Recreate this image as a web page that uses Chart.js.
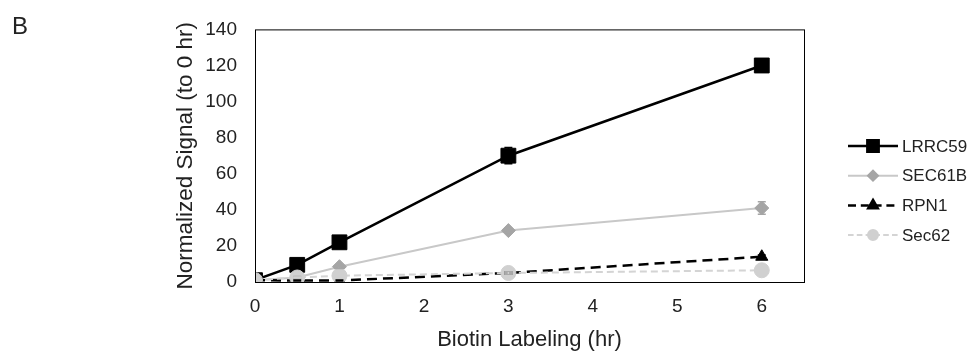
<!DOCTYPE html>
<html>
<head>
<meta charset="utf-8">
<script src="https://cdn.jsdelivr.net/npm/chart.js@4/dist/chart.umd.min.js"></script>
<style>
  html, body { margin: 0; padding: 0; background: #fff; }
  #wrap { width: 974px; height: 354px; }
</style>
</head>
<body>
<div id="wrap"><canvas id="c" width="974" height="354"></canvas></div>
<script>
// time points (hr)
const hours = [0, 0.5, 1, 3, 6];
const xTicks = [0, 1, 2, 3, 4, 5, 6];
const yTicks = [0, 20, 40, 60, 80, 100, 120, 140];

// normalized signal (to 0 hr)
const lrrc59 = [1, 9.5, 22, 70, 120];
const sec61b = [1, 2.5, 8.5, 28.5, 41];
const rpn1 = [1, 0.8, 0.8, 5, 14];
const sec62 = [1, 2.5, 3.5, 5, 6.5];

// error bars (+/-)
const lrrc59Err = [0, 0.8, 1.2, 4.5, 2];
const sec61bErr = [0, 0.5, 1, 1, 3.5];
const rpn1Err = [0, 0.3, 0.3, 0.5, 1];
const sec62Err = [0, 0.3, 0.5, 0.5, 0.5];

const FONT = 'Liberation Sans, Arial, sans-serif';

const toPoints = vals => hours.map((h, i) => ({ x: h, y: vals[i] }));

const series = [
    { label: 'LRRC59', data: lrrc59, err: lrrc59Err, line: '#000000', point: '#000000',
      style: 'rect', radius: 10.5, legendRadius: 8, width: 2.5, dash: [], order: 3 },
    { label: 'SEC61B', data: sec61b, err: sec61bErr, line: '#c8c8c8', point: '#a5a5a5',
      style: 'rectRot', radius: 7, legendRadius: 5, width: 2, dash: [], order: 2 },
    { label: 'RPN1', data: rpn1, err: rpn1Err, line: '#000000', point: '#000000',
      style: 'triangle', radius: 7, legendRadius: 5.5, width: 2.5, dash: [10, 6], order: 1 },
    { label: 'Sec62', data: sec62, err: sec62Err, line: '#d4d4d4', point: '#d0d0d0',
      style: 'circle', radius: 7.5, legendRadius: 5, width: 2, dash: [7, 4], order: 0 },
];

const frame = {
    id: 'frame',
    afterDatasetsDraw(chart) {
        const { ctx, chartArea: a } = chart;
        ctx.save();
        ctx.strokeStyle = '#000';
        ctx.lineWidth = 1;
        ctx.strokeRect(a.left + 0.5, a.top + 0.5, a.right - a.left, a.bottom - a.top);
        ctx.restore();
    }
};

const errorBars = {
    id: 'errorBars',
    afterDatasetsDraw(chart) {
        const { ctx, scales: { x, y } } = chart;
        ctx.save();
        series.forEach(s => {
            ctx.strokeStyle = s.point;
            ctx.lineWidth = 1.5;
            s.data.forEach((v, i) => {
                const e = s.err[i];
                if (!e) return;
                const px = x.getPixelForValue(hours[i]);
                const top = y.getPixelForValue(v + e);
                const bot = y.getPixelForValue(v - e);
                ctx.beginPath();
                ctx.moveTo(px, top); ctx.lineTo(px, bot);
                ctx.moveTo(px - 4, top); ctx.lineTo(px + 4, top);
                ctx.moveTo(px - 4, bot); ctx.lineTo(px + 4, bot);
                ctx.stroke();
            });
        });
        ctx.restore();
    }
};

const sideLegend = {
    id: 'sideLegend',
    afterDraw(chart) {
        const ctx = chart.ctx;
        const x0 = 848, x1 = 898, y0 = 146, gap = 29.7;
        ctx.save();
        series.forEach((s, i) => {
            const yy = y0 + i * gap;
            ctx.strokeStyle = s.line;
            ctx.lineWidth = s.width;
            ctx.setLineDash(s.dash.length ? [s.dash[0] * 0.8, s.dash[1] * 0.8] : []);
            ctx.beginPath();
            ctx.moveTo(x0, yy);
            ctx.lineTo(x1, yy);
            ctx.stroke();
            ctx.setLineDash([]);
            ctx.fillStyle = s.point;
            ctx.strokeStyle = s.point;
            Chart.helpers.drawPoint(ctx, { pointStyle: s.style, radius: s.legendRadius, borderWidth: 1, rotation: 0 },
                (x0 + x1) / 2, yy);
            ctx.fillStyle = '#222';
            ctx.font = '17px ' + FONT;
            ctx.textAlign = 'left';
            ctx.textBaseline = 'middle';
            ctx.fillText(s.label, x1 + 4, yy + 1);
        });
        // panel letter
        ctx.fillStyle = '#222';
        ctx.font = '24px ' + FONT;
        ctx.textBaseline = 'alphabetic';
        ctx.fillText('B', 12, 34);
        ctx.restore();
    }
};

new Chart(document.getElementById('c'), {
    type: 'line',
    plugins: [frame, errorBars, sideLegend],
    data: {
        datasets: series.map(s => ({
            label: s.label,
            data: toPoints(s.data),
            order: s.order,
            borderColor: s.line,
            borderWidth: s.width,
            borderDash: s.dash,
            backgroundColor: s.point,
            pointBackgroundColor: s.point,
            pointBorderColor: s.point,
            pointBorderWidth: 1,
            pointStyle: s.style,
            pointRadius: s.radius,
            pointHoverRadius: s.radius,
            tension: 0,
            fill: false,
        }))
    },
    options: {
        responsive: false,
        animation: false,
        events: [],
        layout: { padding: { left: 170, right: 170, top: 28, bottom: 0 } },
        plugins: {
            legend: { display: false },
            tooltip: { enabled: false },
        },
        scales: {
            x: {
                type: 'linear',
                min: 0,
                max: 6.5,
                afterBuildTicks: scale => { scale.ticks = xTicks.map(v => ({ value: v })); },
                afterFit: scale => { scale.height = 72; },
                grid: { display: false, drawTicks: false },
                border: { display: false },
                ticks: { color: '#222', font: { family: FONT, size: 19 }, padding: 13 },
                title: {
                    display: true,
                    text: 'Biotin Labeling (hr)',
                    color: '#222',
                    font: { family: FONT, size: 22 },
                    padding: { top: 4, bottom: 1 },
                },
            },
            y: {
                min: 0,
                max: 140,
                afterBuildTicks: scale => { scale.ticks = yTicks.map(v => ({ value: v })); },
                afterFit: scale => { scale.width = 85; },
                grid: { display: false, drawTicks: false },
                border: { display: false },
                ticks: { color: '#222', font: { family: FONT, size: 19 }, padding: 18 },
                title: {
                    display: true,
                    text: 'Normalized Signal (to 0 hr)',
                    color: '#222',
                    font: { family: FONT, size: 22.5 },
                    padding: { top: 2, bottom: 4 },
                },
            },
        },
    },
});
</script>
</body>
</html>
